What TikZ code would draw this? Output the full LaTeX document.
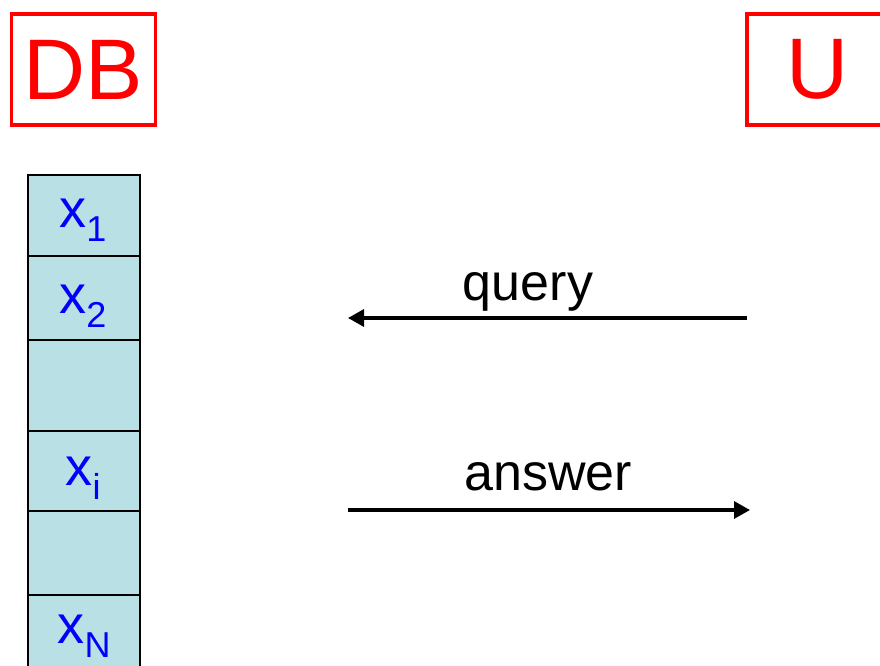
\documentclass[tikz,border=0pt]{standalone}
\usepackage{fontspec}
\setmainfont{Liberation Sans}
\usetikzlibrary{arrows.meta}
\definecolor{cellfill}{RGB}{185,224,228}
\newcommand{\sub}[1]{\raisebox{-14pt}{\fontsize{36}{36}\selectfont #1}}
\begin{document}
\begin{tikzpicture}[x=1pt,y=-1pt,
  party/.style={draw=red, line width=3.5pt, text=red, font=\fontsize{86}{86}\selectfont, inner sep=0pt, minimum height=111pt},
  cell/.style={draw=black, line width=2pt, fill=cellfill, minimum width=112pt, anchor=north west, inner sep=0pt},
  entry/.style={text=blue, font=\fontsize{54}{54}\selectfont, anchor=base, inner sep=0pt},
  msg/.style={font=\fontsize{52}{52}\selectfont, anchor=base, inner sep=0pt},
  flow/.style={line width=3.2pt, -{Triangle[length=16pt,width=17pt]}}]
\clip (0,0) rectangle (880,666);
\fill[white] (0,0) rectangle (880,666);

% the two parties
\node[party, minimum width=144pt] (db) at (83.5,69.5) {DB};
\node[party, minimum width=142pt] (u) at (818,69.5) {U};

% database column
\node[cell, minimum height=81pt] (c1) at (27,174) {};
\node[cell, minimum height=84pt] (c2) at (27,255) {};
\node[cell, minimum height=91pt] (c3) at (27,339) {};
\node[cell, minimum height=80pt] (c4) at (27,430) {};
\node[cell, minimum height=84pt] (c5) at (27,510) {};
\node[cell, minimum height=90pt] (c6) at (27,594) {};

\node[entry] (x1) at (83,227) {x\sub{1}};
\node[entry] (x2) at (83,313) {x\sub{2}};
\node[entry] (xi) at (83,485) {x\sub{i}};
\node[entry] (xN) at (84,643) {x\sub{N}};

% messages
\coordinate (qstart) at (747,318);
\coordinate (qend) at (348,318);
\draw[flow] (qstart) -- (qend);
\node[msg] (query) at (528,300) {query};

\coordinate (astart) at (348,510);
\coordinate (aend) at (750,510);
\draw[flow] (astart) -- (aend);
\node[msg] (answer) at (548,490) {answer};
\end{tikzpicture}
\end{document}
